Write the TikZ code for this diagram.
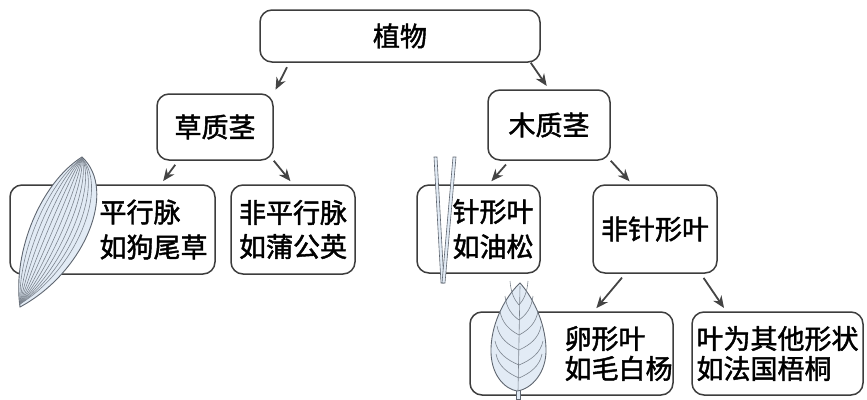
\documentclass[tikz,border=0pt]{standalone}
\usepackage{fontspec}
\setmainfont{Noto Sans CJK SC}[FakeBold=1.6]
\usepackage{tikz}
\usetikzlibrary{arrows.meta, positioning, calc}

\definecolor{boxgray}{HTML}{3D3D3D}
\definecolor{arrowgray}{HTML}{444444}
\definecolor{leaffill}{HTML}{E2EBF5}
\definecolor{leafline}{HTML}{5F6670}
\definecolor{veincol}{HTML}{7D858F}

\begin{document}
\begin{tikzpicture}[
    x=1pt, y=-1pt,
    box/.style={rectangle, rounded corners=12pt, draw=boxgray, line width=1.5pt, fill=white, align=left, inner sep=0pt, font=\fontsize{27}{34}\selectfont},
    txt/.style={align=left, inner sep=0pt, font=\fontsize{27}{35}\selectfont},
    leaf/.style={fill=leaffill, draw=leafline, line width=0.9pt},
    vein/.style={draw=veincol, line width=0.6pt},
    arrow/.style={-{Stealth[length=12pt, width=10pt]}, draw=arrowgray, line width=1.8pt, shorten <=5pt, shorten >=4pt}
]
    \useasboundingbox (0,0) rectangle (867,399);

    \node[box, minimum width=280pt, minimum height=52pt] (plant) at (400,36) {植物};
    \node[box, minimum width=116pt, minimum height=66pt] (herb) at (215,127) {草质茎};
    \node[box, minimum width=122pt, minimum height=70pt] (wood) at (549,125) {木质茎};

    \node[box, minimum width=205pt, minimum height=89pt] (par) at (112.5,229.5) {};
    \node[box, minimum width=124pt, minimum height=89pt] (nonpar) at (293,229.5) {非平行脉\\如蒲公英};
    \node[box, minimum width=123pt, minimum height=88pt] (needle) at (478.5,229) {};
    \node[box, minimum width=124pt, minimum height=88pt] (nonneedle) at (655,229) {非针形叶};

    \node[box, minimum width=203pt, minimum height=83pt] (ovate) at (571.5,353.5) {};
    \node[box, minimum width=171pt, minimum height=83pt, font=\fontsize{27}{30}\selectfont] (other) at (777.5,353.5) {叶为其他形状\\如法国梧桐};

    \node[txt, left=8pt of par.east] (partext) {平行脉\\如狗尾草};
    \node[txt, left=7pt of needle.east] (needletext) {针形叶\\如油松};
    \node[txt, left=1pt of ovate.east, font=\fontsize{27}{30}\selectfont] (ovatetext) {卵形叶\\如毛白杨};

    % grass leaf with parallel veins
    \path[leaf] (20,307) .. controls (85,272) and (118,190) .. (82,157)
        .. controls (42,182) and (12,250) .. (20,307) -- cycle;
    \foreach \s in {0.08,0.16,...,0.93}
        \draw[vein] (20,304) .. controls ({12+73*\s},{250+22*\s}) and ({42+76*\s},{182+8*\s}) .. (82,158);

    % pine needles
    \path[leaf, line width=0.6pt] (434,157) -- (437,157) -- (444,283) -- (441,283) -- cycle;
    \path[leaf, line width=0.6pt] (453,157) -- (456,157) -- (445,283) -- (442,283) -- cycle;

    % poplar leaf
    \path[leaf, line width=0.6pt] (516,388) rectangle (520,399);
    \path[leaf] (520,283) .. controls (507,295) and (492,320) .. (491,348)
        .. controls (490,375) and (505,389) .. (517,391)
        .. controls (532,389) and (547,372) .. (546,348)
        .. controls (545,320) and (531,295) .. (520,283) -- cycle;
    \draw[vein] (520,286) .. controls (519,340) .. (518,391);
    \foreach \y/\w in {305/9, 320/14, 335/19, 350/22, 365/24, 378/23} {
        \draw[vein] (519,\y) .. controls ({519-0.5*\w},{\y-5}) and ({519-0.9*\w},{\y-12}) .. ({519-\w},{\y-24});
        \draw[vein] (519,\y) .. controls ({519+0.5*\w},{\y-5}) and ({519+0.9*\w},{\y-12}) .. ({519+\w},{\y-24});
    }

    \draw[arrow] ([xshift=30pt]plant.south west) -- (herb.north east);
    \draw[arrow, shorten <=0pt] ([xshift=-10pt]plant.south east) -- (wood.north);
    \draw[arrow] ([xshift=22pt]herb.south west) -- ([xshift=-55pt]par.north east);
    \draw[arrow, shorten <=0pt] (herb.south east) -- (nonpar.north);
    \draw[arrow] ([xshift=22pt]wood.south west) -- ([xshift=-52pt]needle.north east);
    \draw[arrow, shorten <=0pt] (wood.south east) -- ([xshift=40pt]nonneedle.north west);
    \draw[arrow] ([xshift=33pt]nonneedle.south west) -- ([xshift=-80pt]ovate.north east);
    \draw[arrow] ([xshift=-17pt]nonneedle.south east) -- ([xshift=35pt]other.north west);

\end{tikzpicture}
\end{document}
